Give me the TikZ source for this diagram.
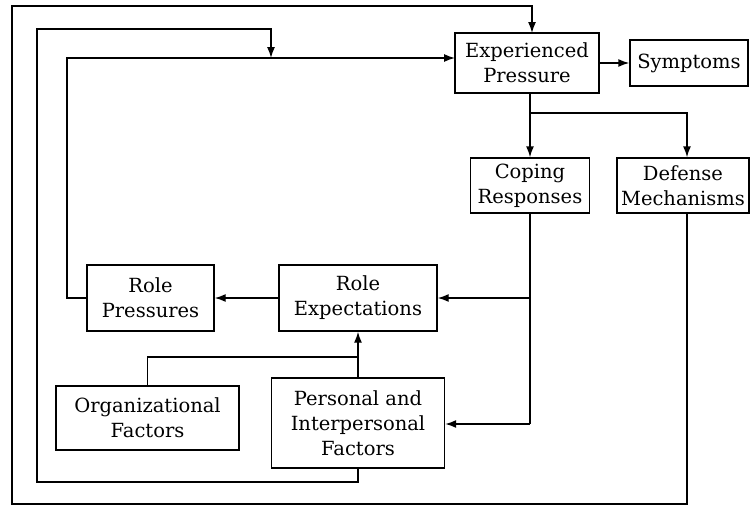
\documentclass[tikz,border=0pt]{standalone}
\usepackage{fontspec}
\setmainfont{DejaVu Serif}
\usetikzlibrary{arrows.meta}
\begin{document}
\begin{tikzpicture}[x=1pt,y=-1pt,
  box/.style={draw,line width=1.4pt,rectangle,inner sep=0pt,align=center,
    font=\fontsize{19.5}{25}\selectfont},
  link/.style={line width=1.4pt},
  arr/.style={link,-{Latex[length=11pt,width=8pt]}}]
\useasboundingbox (0,0) rectangle (750,506);
% boxes
\node[box,minimum width=144pt,minimum height=60pt] (ep)  at (527,63)   {Experienced\\Pressure};
\node[box,minimum width=118pt,minimum height=46pt] (sym) at (689,63)   {Symptoms};
\node[box,minimum width=119pt,minimum height=55pt] (cop) at (530,185.5) {Coping\\Responses};
\node[box,minimum width=132pt,minimum height=55pt] (def) at (683,185.5) {Defense\\Mechanisms};
\node[box,minimum width=127pt,minimum height=66pt] (rp)  at (150.5,298) {Role\\Pressures};
\node[box,minimum width=158pt,minimum height=66pt] (re)  at (358,298)   {Role\\Expectations};
\node[box,minimum width=183pt,minimum height=64pt] (of)  at (147.5,418) {Organizational\\Factors};
\node[box,minimum width=173pt,minimum height=90pt] (pf)  at (358,423)   {Personal and\\Interpersonal\\Factors};
% junction points
\coordinate (split) at (530,113);
\coordinate (dcol)  at (687,113);
\coordinate (cre)   at (530,298);
\coordinate (cpf)   at (530,424);
\coordinate (ofj)   at (358,357);
\coordinate (fin)   at (455,58);
\coordinate (rpl)   at (67,298);
\coordinate (m1)    at (358,482);
\coordinate (m2)    at (37,29);
\coordinate (m3)    at (271,58);
\coordinate (o1)    at (687,504);
\coordinate (o2)    at (12,6);
\coordinate (o3)    at (532,33);
% forward flow
\draw[arr] (ep) -- (sym);
\draw[link] (ep.south -| split) -- (split);
\draw[arr] (split) -- (cop.north);
\draw[arr] (split) -- (dcol) -- (dcol |- def.north);
\draw[link] (cop.south) -- (cpf);
\draw[arr] (cre) -- (re.east);
\draw[arr] (cpf) -- (cpf -| pf.east);
\draw[arr] (re) -- (rp);
\draw[arr] (pf) -- (re);
\draw[link] (of.north) |- (ofj);
% feedback loops
\draw[arr] (rp.west) -- (rpl) |- (fin);
\draw[arr] (pf.south) -- (m1) -| (m2) -| (m3);
\draw[arr] (o1 |- def.south) -- (o1) -| (o2) -| (o3);
\end{tikzpicture}
\end{document}
